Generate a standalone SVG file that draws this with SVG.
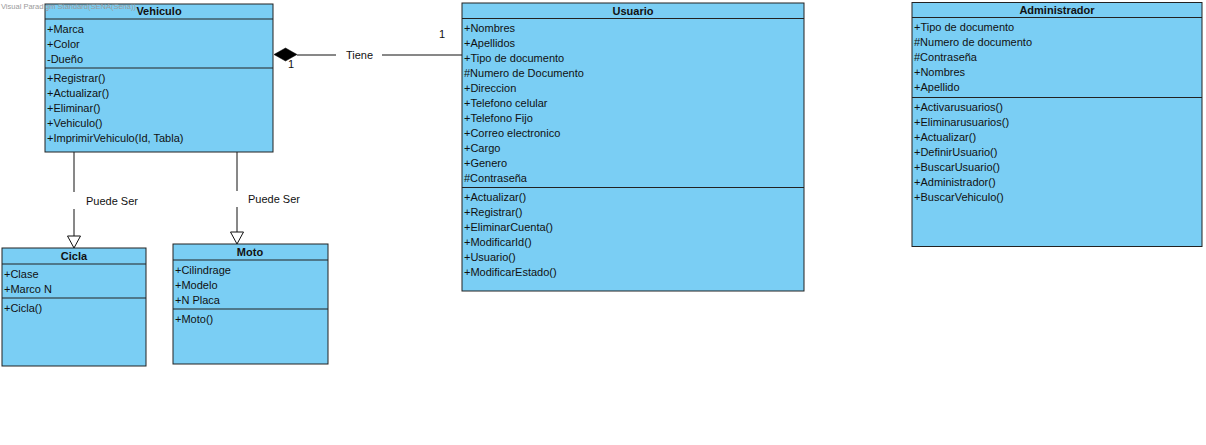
<svg xmlns="http://www.w3.org/2000/svg" width="1206" height="445" viewBox="0 0 1206 445">
<style>
.box{fill:#7acef4;stroke:#222;stroke-width:1}
.sep{stroke:#222;stroke-width:1}
text{font-family:"Liberation Sans",Arial,sans-serif;font-size:11px;fill:#111}
.t{font-weight:bold;text-anchor:middle}
.ln{stroke:#111;stroke-width:1;fill:none}
.wm{font-size:7.5px;fill:#9a9a9a}
</style>
<defs>
<marker id="gen" markerWidth="16" markerHeight="14" refX="13" refY="7" orient="auto" markerUnits="userSpaceOnUse">
<path d="M1,0.5 L13,7 L1,13.5 Z" fill="#fff" stroke="#111" stroke-width="1"/>
</marker>
</defs>
<rect width="1206" height="445" fill="#fff"/>

<g id="connectors">
<path class="ln" d="M297,55 L336,55 M382,55 L462,55"/>
<path d="M274,54.5 L285.5,48 L297,54.5 L285.5,61 Z" fill="#000" stroke="#000" stroke-width="0.5"/>
<text x="346" y="59">Tiene</text>
<text x="288" y="68">1</text>
<text x="439" y="38">1</text>
<path class="ln" d="M74,152 L74,192"/>
<path class="ln" d="M74,209 L74,248" marker-end="url(#gen)"/>
<text x="86" y="205">Puede Ser</text>
<path class="ln" d="M237,152 L237,191"/>
<path class="ln" d="M237,207 L237,244" marker-end="url(#gen)"/>
<text x="248" y="203">Puede Ser</text>
</g>

<g id="Vehiculo">
<rect class="box" x="45" y="4" width="228" height="148"/>
<line class="sep" x1="45" y1="19" x2="273" y2="19"/>
<line class="sep" x1="45" y1="68" x2="273" y2="68"/>
<text class="t" x="159" y="15">Vehiculo</text>
<text x="47" y="33">+Marca</text>
<text x="47" y="48">+Color</text>
<text x="47" y="63">-Dueño</text>
<text x="47" y="82">+Registrar()</text>
<text x="47" y="97">+Actualizar()</text>
<text x="47" y="112">+Eliminar()</text>
<text x="47" y="127">+Vehiculo()</text>
<text x="47" y="142">+ImprimirVehiculo(Id, Tabla)</text>
</g>

<g id="Cicla">
<rect class="box" x="2" y="248" width="144" height="118"/>
<line class="sep" x1="2" y1="264" x2="146" y2="264"/>
<line class="sep" x1="2" y1="298" x2="146" y2="298"/>
<text class="t" x="74" y="260">Cicla</text>
<text x="4" y="278">+Clase</text>
<text x="4" y="293">+Marco N</text>
<text x="4" y="312">+Cicla()</text>
</g>

<g id="Moto">
<rect class="box" x="173" y="244" width="155" height="120"/>
<line class="sep" x1="173" y1="260" x2="328" y2="260"/>
<line class="sep" x1="173" y1="309" x2="328" y2="309"/>
<text class="t" x="250" y="256">Moto</text>
<text x="175" y="274">+Cilindrage</text>
<text x="175" y="289">+Modelo</text>
<text x="175" y="304">+N Placa</text>
<text x="175" y="323">+Moto()</text>
</g>

<g id="Usuario">
<rect class="box" x="462" y="3" width="342" height="288"/>
<line class="sep" x1="462" y1="18.5" x2="804" y2="18.5"/>
<line class="sep" x1="462" y1="187.5" x2="804" y2="187.5"/>
<text class="t" x="633" y="15">Usuario</text>
<text x="464" y="32">+Nombres</text>
<text x="464" y="47">+Apellidos</text>
<text x="464" y="62">+Tipo de documento</text>
<text x="464" y="77">#Numero de Documento</text>
<text x="464" y="92">+Direccion</text>
<text x="464" y="107">+Telefono celular</text>
<text x="464" y="122">+Telefono Fijo</text>
<text x="464" y="137">+Correo electronico</text>
<text x="464" y="152">+Cargo</text>
<text x="464" y="167">+Genero</text>
<text x="464" y="182">#Contraseña</text>
<text x="464" y="201">+Actualizar()</text>
<text x="464" y="216">+Registrar()</text>
<text x="464" y="231">+EliminarCuenta()</text>
<text x="464" y="246">+ModificarId()</text>
<text x="464" y="261">+Usuario()</text>
<text x="464" y="276">+ModificarEstado()</text>
</g>

<g id="Administrador">
<rect class="box" x="912" y="2.5" width="290" height="244"/>
<line class="sep" x1="912" y1="17.5" x2="1202" y2="17.5"/>
<line class="sep" x1="912" y1="97.5" x2="1202" y2="97.5"/>
<text class="t" x="1057" y="14">Administrador</text>
<text x="914" y="30.5">+Tipo de documento</text>
<text x="914" y="45.5">#Numero de documento</text>
<text x="914" y="60.5">#Contraseña</text>
<text x="914" y="75.5">+Nombres</text>
<text x="914" y="90.5">+Apellido</text>
<text x="914" y="111">+Activarusuarios()</text>
<text x="914" y="126">+Eliminarusuarios()</text>
<text x="914" y="141">+Actualizar()</text>
<text x="914" y="156">+DefinirUsuario()</text>
<text x="914" y="171">+BuscarUsuario()</text>
<text x="914" y="186">+Administrador()</text>
<text x="914" y="201">+BuscarVehiculo()</text>
</g>

<text class="wm" x="1" y="9">Visual Paradigm Standard(SENA(Sena))</text>
</svg>
